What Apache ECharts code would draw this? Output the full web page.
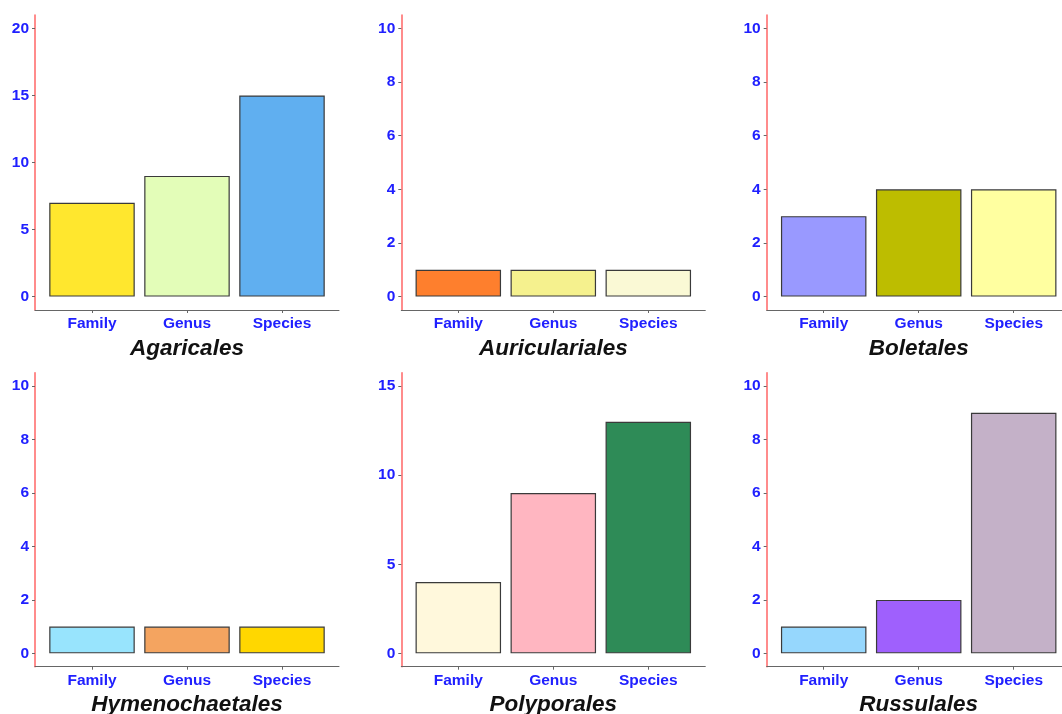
<!DOCTYPE html>
<html>
<head>
<meta charset="utf-8">
<title>Taxa per order</title>
<script src="https://cdn.jsdelivr.net/npm/echarts@6/dist/echarts.min.js"></script>
<style>
  html, body { margin: 0; padding: 0; background: #ffffff; overflow: hidden; }
  #chart { width: 1062px; height: 714px; }
</style>
</head>
<body>
<div id="chart"></div>
<script>
// Taxonomic ranks shown on every panel
const ranks = ['Family', 'Genus', 'Species'];

// Orders, one panel each (row by row)
const orders = ['Agaricales', 'Auriculariales', 'Boletales', 'Hymenochaetales', 'Polyporales', 'Russulales'];

// Counts per rank (Family, Genus, Species)
const agaricales      = [7, 9, 15];
const auriculariales  = [1, 1, 1];
const boletales       = [3, 4, 4];
const hymenochaetales = [1, 1, 1];
const polyporales     = [4, 9, 13];
const russulales      = [1, 2, 9];

// Upper limit of each panel's y scale and its tick labels
const yLimits = [20, 10, 10, 10, 15, 10];
const yTicks = [
  [0, 5, 10, 15, 20],
  [0, 2, 4, 6, 8, 10],
  [0, 2, 4, 6, 8, 10],
  [0, 2, 4, 6, 8, 10],
  [0, 5, 10, 15],
  [0, 2, 4, 6, 8, 10]
];

// Fill colours per panel (Family, Genus, Species)
const fills = [
  ['#ffe72e', '#e3fdb8', '#60aff0'],
  ['#fe7f2d', '#f5f18e', '#faf9d5'],
  ['#9999ff', '#bdbd00', '#ffffa0'],
  ['#98e4fd', '#f4a460', '#ffd700'],
  ['#fff8dc', '#ffb6c1', '#2e8b57'],
  ['#96d7fd', '#9f60fd', '#c4b1c8']
];

const counts = [agaricales, auriculariales, boletales, hymenochaetales, polyporales, russulales];

// Panel geometry (the right-hand column runs slightly past the canvas edge)
const colLeft = [35, 401.3, 766.7];
const rowTop = [15, 372.7];
const rowHeight = [295, 294];
const panelWidth = 304;
// discrete scale padded by 0.6 on each side, bars 0.9 of a slot wide
const xMin = 0.4, xMax = 3.6;
const barWidth = 0.9 * panelWidth / (xMax - xMin);

const font = '"Liberation Sans", Arial, Helvetica, sans-serif';
const labelBlue = '#2020ff';

const grids = [], xAxes = [], yAxes = [], series = [];

orders.forEach((name, i) => {
  const col = i % 3, row = Math.floor(i / 3);
  grids.push({
    left: colLeft[col],
    top: rowTop[row],
    width: panelWidth,
    height: rowHeight[row],
    containLabel: false,
    outerBoundsMode: 'none'
  });
  const slots = ranks.map((_, k) => k + 1);
  xAxes.push({
    gridIndex: i,
    type: 'value',
    min: xMin,
    max: xMax,
    name: name,
    nameLocation: 'middle',
    nameGap: 27,
    nameTextStyle: {
      fontFamily: font, fontSize: 22.5, fontWeight: 'bold', fontStyle: 'italic', color: '#111111'
    },
    splitLine: { show: false },
    axisLine: { show: true, onZero: false, lineStyle: { color: '#666666', width: 1 } },
    axisTick: { show: true, length: 3, customValues: slots, lineStyle: { color: '#666666' } },
    axisLabel: {
      show: true,
      customValues: slots,
      margin: 6,
      fontFamily: font, fontSize: 15.5, fontWeight: 'bold', color: labelBlue,
      formatter: v => ranks[Math.round(v) - 1]
    }
  });
  const pad = yLimits[i] * 0.05;
  yAxes.push({
    gridIndex: i,
    type: 'value',
    min: -pad,
    max: yLimits[i] + pad,
    splitLine: { show: false },
    axisLine: { show: true, onZero: false, lineStyle: { color: '#ff6666', width: 1.5 } },
    axisTick: { show: true, length: 3, customValues: yTicks[i], lineStyle: { color: '#666666' } },
    axisLabel: {
      show: true,
      customValues: yTicks[i],
      margin: 6,
      fontFamily: font, fontSize: 15.5, fontWeight: 'bold', color: labelBlue
    }
  });
  series.push({
    type: 'bar',
    xAxisIndex: i,
    yAxisIndex: i,
    barWidth: barWidth,
    silent: true,
    animation: false,
    data: counts[i].map((v, k) => ({
      value: [k + 1, v],
      itemStyle: { color: fills[i][k], borderColor: '#3a3a3a', borderWidth: 1.2 }
    }))
  });
});

const chart = echarts.init(document.getElementById('chart'), null, { renderer: 'canvas' });
chart.setOption({
  backgroundColor: '#ffffff',
  animation: false,
  grid: grids,
  xAxis: xAxes,
  yAxis: yAxes,
  series: series
});
</script>
</body>
</html>
